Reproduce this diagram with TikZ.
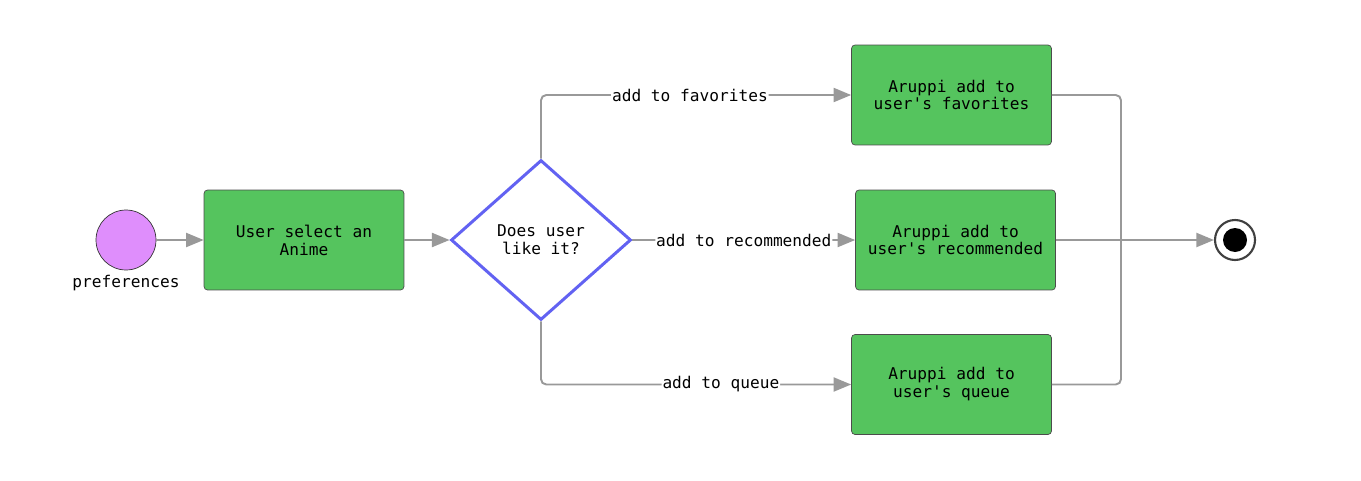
\documentclass[tikz,border=0pt]{standalone}
\usepackage{fontspec}
\usetikzlibrary{positioning, shapes.geometric, arrows.meta}
\newfontfamily\flowfont{DejaVu Sans Mono}
\definecolor{actgreen}{HTML}{55C45E}
\definecolor{startpink}{HTML}{DF8EFC}
\definecolor{decblue}{HTML}{6262F2}
\definecolor{flowgray}{HTML}{999999}

\begin{document}
\begin{tikzpicture}[x=0.02cm, y=-0.02cm,
    every node/.style={font=\flowfont\fontsize{9.2}{10.2}\selectfont},
    action/.style={rectangle, rounded corners=2pt, draw=black!70, fill=actgreen, minimum width=4cm, minimum height=2cm, align=center, inner sep=0pt},
    flow/.style={draw=flowgray, line width=1.1pt, rounded corners=3pt, -{Triangle[length=10pt, width=8pt]}},
    tag/.style={fill=white, inner sep=0.5pt}]
    \useasboundingbox (0,0) rectangle (1361,480);

    % Start and first action
    \node[circle, draw=black!80, fill=startpink, minimum size=1.2cm, inner sep=0pt] (start) at (126,240) {};
    \node (preflabel) at (126,283) {preferences};
    \node[action] (select) at (304,240) {User select an\\Anime};

    % Decision
    \node[diamond, draw=decblue, line width=1.7pt, fill=white, minimum width=3.6cm, minimum height=3.2cm, inner sep=0pt, align=center] (like) at (541,240) {Does user\\like it?};

    % Aruppi actions
    \node[action] (fav) at (951.5,95) {Aruppi add to\\user's favorites};
    \node[action] (rec) at (955.5,240) {Aruppi add to\\user's recommended};
    \node[action] (queue) at (951.5,384.5) {Aruppi add to\\user's queue};

    % Final node
    \node[circle, draw=black!75, fill=white, line width=1.2pt, minimum size=0.8cm, inner sep=0pt] (stop) at (1235,240) {};
    \node[circle, fill=black, minimum size=0.48cm, inner sep=0pt] (stopdot) at (stop) {};
    \coordinate (join) at (1121,240);

    % Connections
    \draw[flow] (start) -- (select);
    \draw[flow] (select) -- (like);
    \draw[flow] (like.north) |- node[tag, pos=0.74] {add to favorites} (fav.west);
    \draw[flow] (like.east) -- node[tag] {add to recommended} (rec.west);
    \draw[flow] (like.south) |- node[tag, pos=0.79] {add to queue} (queue.west);
    \draw[flow, -] (fav.east) -| (join);
    \draw[flow, -] (queue.east) -| (join);
    \draw[flow] (rec.east) -- (stop);
\end{tikzpicture}
\end{document}
